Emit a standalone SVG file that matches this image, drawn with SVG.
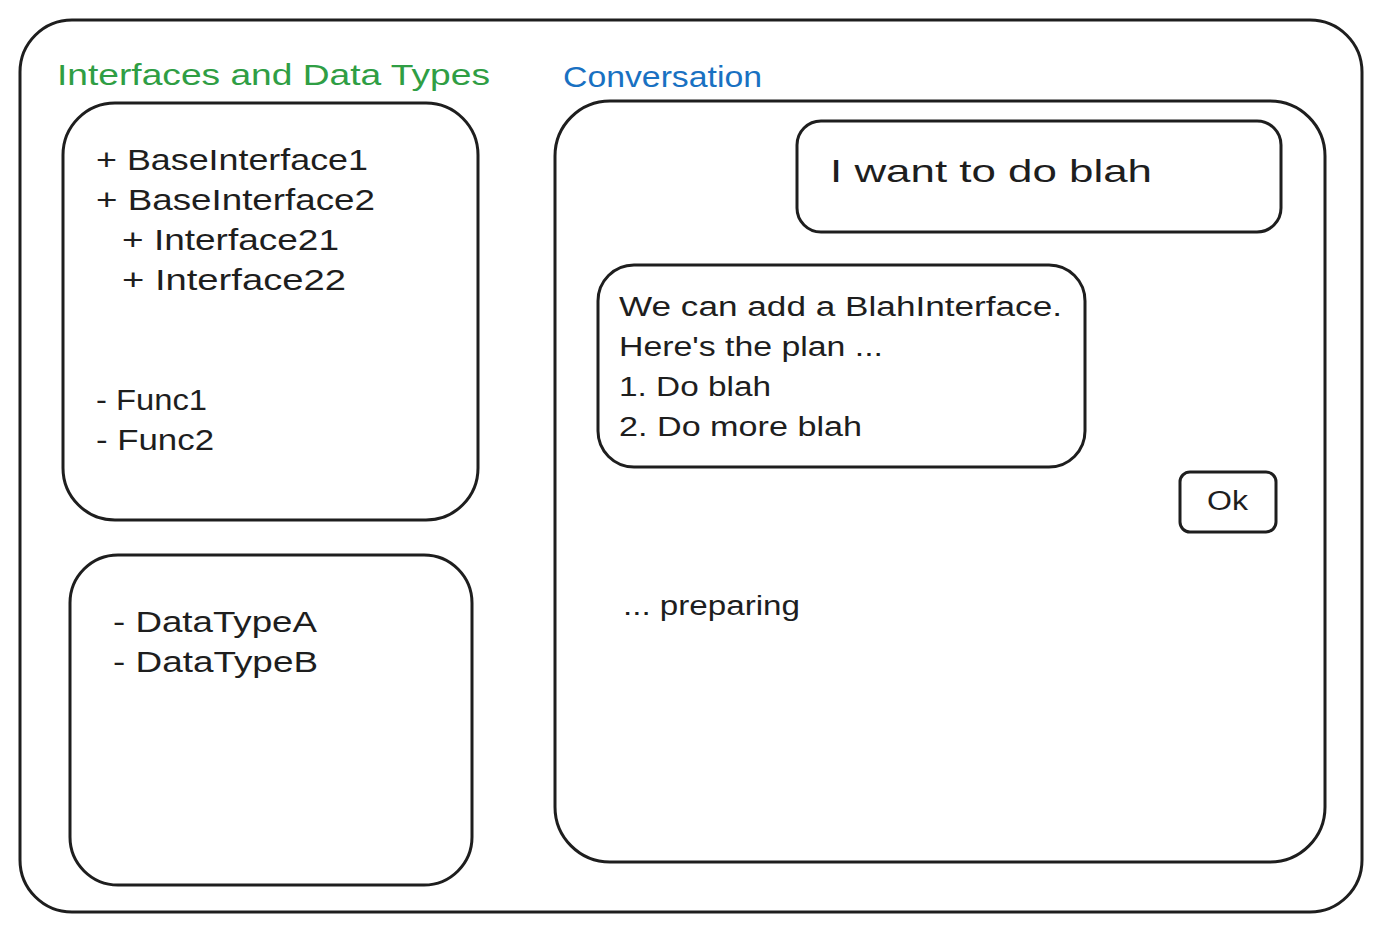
<svg xmlns="http://www.w3.org/2000/svg" width="1381" height="932" viewBox="0 0 1381 932">
<style>
.box{fill:#ffffff;stroke:#1e1e1e;stroke-width:3;stroke-linejoin:round}
.t{font-family:"Liberation Sans","DejaVu Sans",sans-serif;fill:#1e1e1e}
.title-g{fill:#2f9e44}
.title-b{fill:#1971c2}
</style>
<rect width="1381" height="932" fill="#ffffff"/>
<g id="frame"><rect class="box" x="20" y="20" width="1342" height="892" rx="52"/></g>
<g id="title-left"><text class="t title-g" x="57" y="85" font-size="30" textLength="433" lengthAdjust="spacingAndGlyphs">Interfaces and Data Types</text></g>
<g id="title-right"><text class="t title-b" x="563" y="87" font-size="30" textLength="199" lengthAdjust="spacingAndGlyphs">Conversation</text></g>
<g id="interfaces">
<rect class="box" x="63" y="103" width="415" height="417" rx="52"/>
<text class="t" font-size="29">
<tspan x="96" y="170" textLength="272" lengthAdjust="spacingAndGlyphs">+ BaseInterface1</tspan>
<tspan x="96" y="210" textLength="279" lengthAdjust="spacingAndGlyphs">+ BaseInterface2</tspan>
<tspan x="122" y="250" textLength="217" lengthAdjust="spacingAndGlyphs">+ Interface21</tspan>
<tspan x="122" y="290" textLength="224" lengthAdjust="spacingAndGlyphs">+ Interface22</tspan>
<tspan x="96" y="410" textLength="111" lengthAdjust="spacingAndGlyphs">- Func1</tspan>
<tspan x="96" y="450" textLength="118" lengthAdjust="spacingAndGlyphs">- Func2</tspan>
</text>
</g>
<g id="datatypes">
<rect class="box" x="70" y="555" width="402" height="330" rx="48"/>
<text class="t" font-size="29">
<tspan x="113" y="632" textLength="202" lengthAdjust="spacingAndGlyphs">- DataTypeA</tspan>
<tspan x="113" y="672" textLength="205" lengthAdjust="spacingAndGlyphs">- DataTypeB</tspan>
</text>
</g>
<g id="conversation"><rect class="box" x="555" y="101" width="770" height="761" rx="55"/></g>
<g id="user-msg">
<rect class="box" x="797" y="121" width="484" height="111" rx="24"/>
<text class="t" x="830" y="182" font-size="32" textLength="322" lengthAdjust="spacingAndGlyphs">I want to do blah</text>
</g>
<g id="reply-msg">
<rect class="box" x="598" y="265" width="487" height="202" rx="36"/>
<text class="t" font-size="27">
<tspan x="619" y="316" textLength="443" lengthAdjust="spacingAndGlyphs">We can add a BlahInterface.</tspan>
<tspan x="619" y="356" textLength="264" lengthAdjust="spacingAndGlyphs">Here's the plan ...</tspan>
<tspan x="619" y="396" textLength="152" lengthAdjust="spacingAndGlyphs">1. Do blah</tspan>
<tspan x="619" y="436" textLength="243" lengthAdjust="spacingAndGlyphs">2. Do more blah</tspan>
</text>
</g>
<g id="ok-button">
<rect class="box" x="1180" y="472" width="96" height="60" rx="10"/>
<text class="t" x="1207" y="510" font-size="27" textLength="41" lengthAdjust="spacingAndGlyphs">Ok</text>
</g>
<g id="preparing"><text class="t" x="623" y="615" font-size="27" textLength="177" lengthAdjust="spacingAndGlyphs">... preparing</text></g>
<g id="connectors"></g>
</svg>
